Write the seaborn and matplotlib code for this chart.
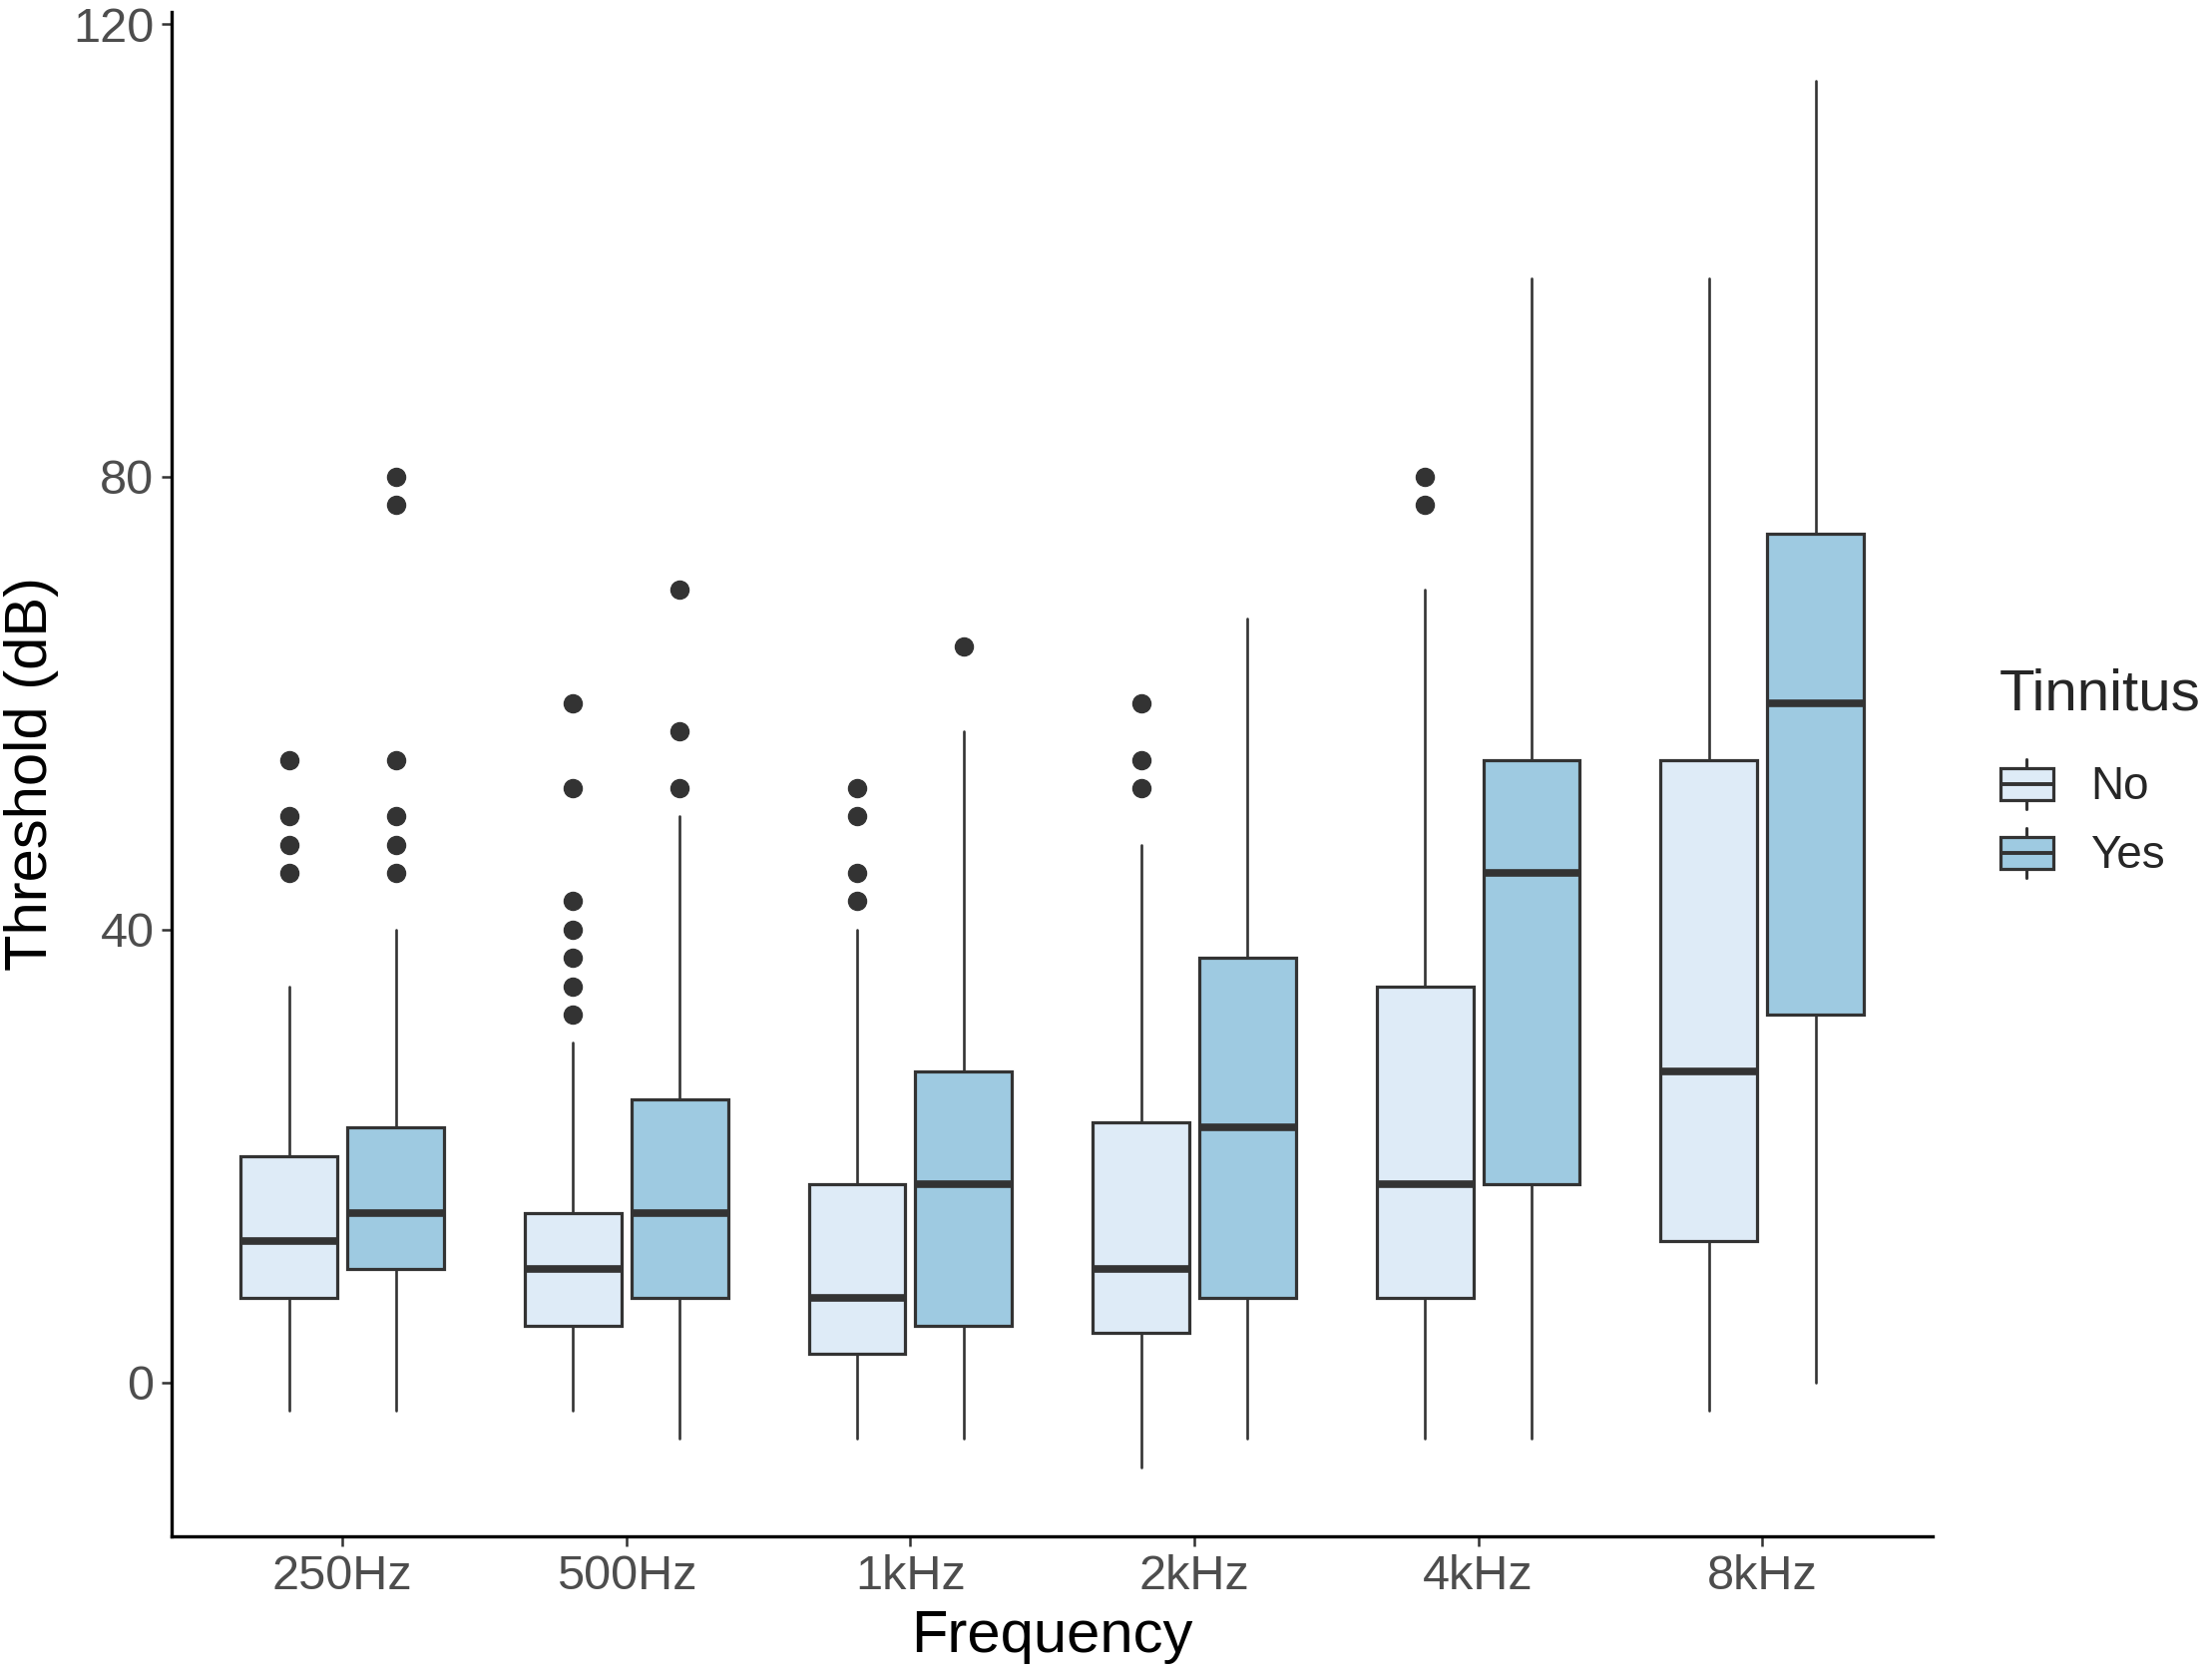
import matplotlib
matplotlib.use("Agg")
import numpy as np
import pandas as pd
import seaborn as sns
import matplotlib.pyplot as plt
from matplotlib.legend_handler import HandlerBase
from matplotlib.patches import Rectangle, Patch
from matplotlib.lines import Line2D

# ---- data ----
frequencies = ["250Hz", "500Hz", "1kHz", "2kHz", "4kHz", "8kHz"]
groups = ["No", "Yes"]

no_whislo = [-2.5, -2.5, -5, -7.5, -5, -2.5]
no_q1 = [7.5, 5, 2.5, 4.4, 7.5, 12.5]
no_med = [12.5, 10, 7.5, 10, 17.5, 27.5]
no_q3 = [20, 15, 17.5, 23, 35, 55]
no_whishi = [35, 30, 40, 47.5, 70, 97.5]
no_fliers = [[45, 47.5, 50, 55], [32.5, 35, 37.5, 40, 42.5, 52.5, 60],
             [42.5, 45, 50, 52.5], [52.5, 55, 60], [77.5, 80], []]

yes_whislo = [-2.5, -5, -5, -5, -5, 0]
yes_q1 = [10, 7.5, 5, 7.5, 17.5, 32.5]
yes_med = [15, 15, 17.5, 22.5, 45, 60]
yes_q3 = [22.5, 25, 27.5, 37.5, 55, 75]
yes_whishi = [40, 50, 57.5, 67.5, 97.5, 115]
yes_fliers = [[45, 47.5, 50, 55, 77.5, 80], [52.5, 57.5, 70], [65], [], [], []]

y_ticks = [0, 40, 80, 120]

# ---- style ----
sns.set_theme(style="ticks")
plt.rcParams["font.family"] = ["Liberation Sans", "DejaVu Sans"]

colors = {"No": "#DEEBF7", "Yes": "#9ECAE1"}
edge = "#333333"

fig = plt.figure(figsize=(22.17, 16.78), dpi=100)
ax = fig.add_axes([0.0778, 0.0822, 0.7959, 0.9109])

def make_stats(wl, q1, md, q3, wh, fl):
    return [dict(whislo=a, q1=b, med=c, q3=d, whishi=e, fliers=f)
            for a, b, c, d, e, f in zip(wl, q1, md, q3, wh, fl)]

series = {
    "No": make_stats(no_whislo, no_q1, no_med, no_q3, no_whishi, no_fliers),
    "Yes": make_stats(yes_whislo, yes_q1, yes_med, yes_q3, yes_whishi, yes_fliers),
}
offsets = {"No": -0.1875, "Yes": 0.1875}
base = np.arange(len(frequencies))

for g in groups:
    ax.bxp(series[g], positions=base + offsets[g], widths=0.34,
           patch_artist=True, showcaps=False, manage_ticks=False,
           boxprops=dict(facecolor=colors[g], edgecolor=edge, linewidth=2.3),
           medianprops=dict(color=edge, linewidth=5.5, solid_capstyle="butt"),
           whiskerprops=dict(color=edge, linewidth=1.9),
           flierprops=dict(marker="o", markerfacecolor=edge, markeredgecolor=edge,
                           markersize=13, linestyle="none"))

ax.set_xlim(-0.6, len(frequencies) - 0.4)
ax.set_ylim(-13.6, 121.1)
ax.set_xticks(base)
ax.set_xticklabels(frequencies)
ax.set_yticks(y_ticks)

for s in ["top", "right"]:
    ax.spines[s].set_visible(False)
for s in ["left", "bottom"]:
    ax.spines[s].set_linewidth(2.4)
    ax.spines[s].set_color("black")

ax.tick_params(axis="both", length=7, width=1.8, color="#333333",
               labelsize=35, labelcolor="#4D4D4D", pad=6)
ax.set_xlabel("Frequency", fontsize=43, color="black", labelpad=7)
ax.set_ylabel("Threshold (dB)", fontsize=43, color="black", labelpad=10)


class BoxKey(HandlerBase):
    def create_artists(self, legend, orig_handle, xdescent, ydescent,
                       width, height, fontsize, trans):
        x0, y0 = -xdescent, -ydescent
        bw, bh = width * 0.96, height * 0.6
        bx = x0 + (width - bw) / 2
        by = y0 + (height - bh) / 2
        cx = x0 + width / 2
        top = y0 + height * 0.97
        bot = y0 + height * 0.03
        w1 = Line2D([cx, cx], [bot, by], color=edge, lw=2.2, transform=trans)
        w2 = Line2D([cx, cx], [by + bh, top], color=edge, lw=2.2, transform=trans)
        rect = Rectangle((bx, by), bw, bh, facecolor=orig_handle.get_facecolor(),
                         edgecolor=edge, lw=2.3, transform=trans)
        med = Line2D([bx, bx + bw], [by + bh / 2] * 2, color=edge, lw=2.8,
                     solid_capstyle="butt", transform=trans)
        return [w1, w2, rect, med]


handles = [Patch(facecolor=colors[g], label=g) for g in groups]
leg = fig.legend(handles=handles, labels=groups, title="Tinnitus",
                 loc="upper left", bbox_to_anchor=(0.8955, 0.612),
                 frameon=False, fontsize=33, title_fontsize=42,
                 handler_map={Patch: BoxKey()}, handlelength=1.2,
                 handleheight=1.4, labelspacing=0.35, handletextpad=0.8,
                 borderaxespad=0)
leg._legend_box.align = "left"
leg._legend_box.sep = 26

fig.savefig("out.png", dpi=100, facecolor="white")
